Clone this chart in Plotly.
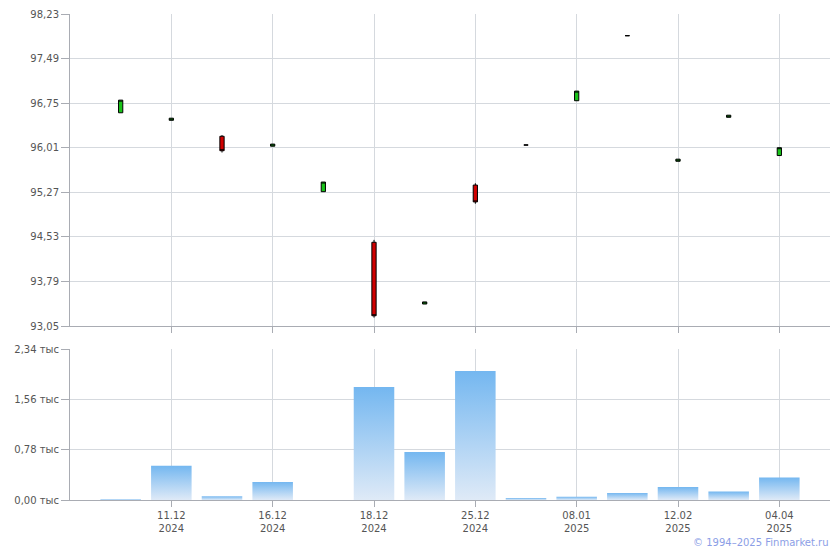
import plotly.graph_objects as go

# ---- data ----
idx = list(range(14))
tick_pos = [1, 3, 5, 7, 9, 11, 13]
tick_labels = ["11.12<br>2024", "16.12<br>2024", "18.12<br>2024", "25.12<br>2024",
               "08.01<br>2025", "12.02<br>2025", "04.04<br>2025"]

opens = [96.59, 96.465, 96.20, 96.035, 95.28, 94.44, 93.415, 95.39, 96.055, 96.79, 97.87, 95.785, 96.515, 95.88]
closes = [96.80, 96.50, 95.96, 96.07, 95.44, 93.22, 93.45, 95.11, 96.055, 96.95, 97.87, 95.82, 96.55, 96.01]
highs = [96.80, 96.50, 96.22, 96.07, 95.44, 94.48, 93.45, 95.42, 96.055, 96.95, 97.87, 95.82, 96.55, 96.01]
lows = [96.59, 96.465, 95.93, 96.035, 95.28, 93.19, 93.415, 95.08, 96.055, 96.79, 97.87, 95.785, 96.515, 95.88]

volumes = [0.012, 0.53, 0.06, 0.28, 0.008, 1.75, 0.745, 2.00, 0.03, 0.05, 0.11, 0.20, 0.13, 0.35]

price_ticks = [93.05, 93.79, 94.53, 95.27, 96.01, 96.75, 97.49, 98.23]
vol_ticks = [0.0, 0.78, 1.56, 2.34]
vol_tick_labels = ["0,00 тыс", "0,78 тыс", "1,56 тыс", "2,34 тыс"]

# ---- style ----
GRID = "#d5d9de"
AXIS = "#a9acb3"
TXT = "#555555"
FONT = "DejaVu Sans"
BAR_HALF = 0.4

fig = go.Figure()

fig.add_trace(go.Candlestick(
    x=idx, open=opens, high=highs, low=lows, close=closes,
    increasing=dict(fillcolor="#19c419", line=dict(color="#000000", width=1)),
    decreasing=dict(fillcolor="#d00000", line=dict(color="#000000", width=1)),
    whiskerwidth=0, xaxis="x", yaxis="y", hoverinfo="skip",
))

for i, v in zip(idx, volumes):
    xs = [i - BAR_HALF, i + BAR_HALF, i + BAR_HALF, i - BAR_HALF, i - BAR_HALF]
    ys = [0, 0, v, v, 0]
    fig.add_trace(go.Scatter(
        x=xs, y=ys, mode="lines", fill="toself",
        line=dict(width=0, color="rgba(0,0,0,0)"),
        fillgradient=dict(type="vertical",
                          colorscale=[[0, "#dfeaf7"], [1, "#74b7f0"]]),
        xaxis="x2", yaxis="y2", hoverinfo="skip",
    ))

# page body has an 8px margin, so the figure is sized/offset to compensate
W, Hf = 832, 542
ML, MT, MR, MB = 62, 6, 10, 50
H = Hf - MT - MB  # 486
top_lo = (492 - 318) / H
bot_hi = (492 - 341) / H

common_x = dict(range=[-1, 14], tickvals=tick_pos, ticktext=tick_labels,
                showgrid=True, gridcolor=GRID, gridwidth=1,
                showline=True, linecolor=AXIS, linewidth=1,
                ticks="outside", ticklen=6, tickcolor=AXIS,
                zeroline=False, fixedrange=True, automargin=False,
                tickfont=dict(family=FONT, size=10, color=TXT))

yfont = dict(family=FONT, size=10, color=TXT)

fig.update_layout(
    width=W, height=Hf,
    margin=dict(l=ML, r=MR, t=MT, b=MB, autoexpand=False),
    paper_bgcolor="white", plot_bgcolor="white",
    showlegend=False,
    boxgap=0.88,
    font=dict(family=FONT, size=10, color=TXT),
    xaxis=dict(**common_x, anchor="y", showticklabels=False,
               rangeslider=dict(visible=False)),
    xaxis2=dict(**common_x, anchor="y2", matches="x", showticklabels=True),
    yaxis=dict(domain=[top_lo, 1], range=[93.05, 98.23], tickvals=price_ticks,
               ticktext=[f"{t:.2f}".replace(".", ",") for t in price_ticks],
               showgrid=True, gridcolor=GRID, showline=True, linecolor=AXIS,
               ticks="outside", ticklen=8, tickcolor=AXIS, zeroline=False,
               fixedrange=True, automargin=False, tickfont=yfont),
    yaxis2=dict(domain=[0, bot_hi], range=[0, 2.34], tickvals=vol_ticks,
                ticktext=vol_tick_labels,
                showgrid=True, gridcolor=GRID, showline=True, linecolor=AXIS,
                ticks="outside", ticklen=8, tickcolor=AXIS, zeroline=False,
                fixedrange=True, automargin=False, tickfont=yfont),
)

fig.add_annotation(text="© 1994–2025 Finmarket.ru", xref="paper", yref="paper",
                   x=1.001, y=(492 - 534) / H, xanchor="right", yanchor="middle",
                   showarrow=False, font=dict(family=FONT, size=10, color="#8b9ee6"))

fig.write_html("out.html")
